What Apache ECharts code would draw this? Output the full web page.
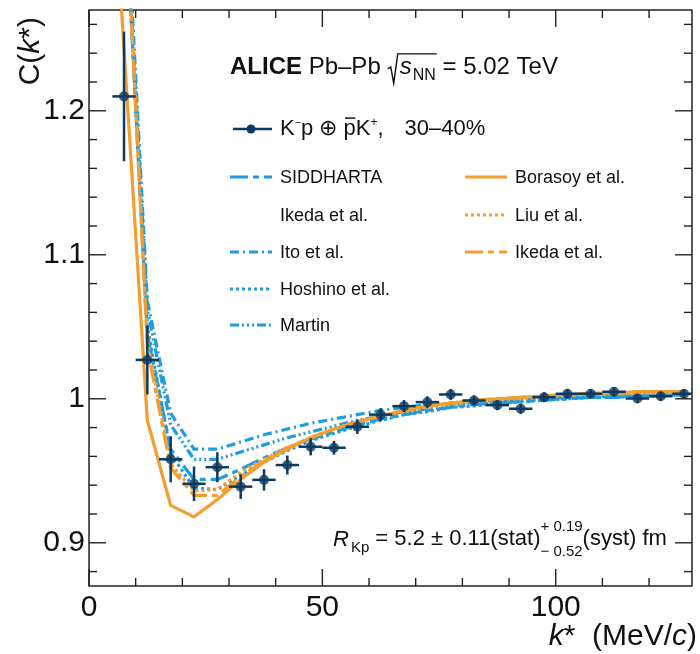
<!DOCTYPE html>
<html>
<head>
<meta charset="utf-8">
<script src="https://cdn.jsdelivr.net/npm/echarts@6/dist/echarts.min.js"></script>
<style>
  html, body { margin: 0; padding: 0; background: #ffffff; }
  #chart { width: 700px; height: 654px; }
</style>
</head>
<body>
<div id="chart"></div>
<script>
// ---- Measured correlation function, K-p (+) pbar-K+, 30-40% centrality ----
const kStar = [7.5, 12.5, 17.5, 22.5, 27.5, 32.5, 37.5, 42.5, 47.5, 52.5, 57.5, 62.5,
  67.5, 72.5, 77.5, 82.5, 87.5, 92.5, 97.5, 102.5, 107.5, 112.5, 117.5, 122.5, 127.5];
const cData = [1.210, 1.027, 0.958, 0.941, 0.9525, 0.939, 0.9437, 0.954, 0.9667, 0.966, 0.9806, 0.989,
  0.9949, 0.9977, 1.003, 0.9988, 0.9956, 0.9931, 1.0011, 1.0035, 1.0035, 1.0049, 1.0002, 1.0018, 1.0035];
const cStatErr = [0.045, 0.024, 0.016, 0.012, 0.0104, 0.0085, 0.0074, 0.0066, 0.006, 0.0048, 0.005, 0.0045,
  0.0042, 0.004, 0.0038, 0.0036, 0.0035, 0.0035, 0.0034, 0.0033, 0.0033, 0.0032, 0.0032, 0.0032, 0.0032];
const binHalfWidth = 2.5;

// ---- Model predictions, evaluated at the bin centres ----
const kModel = [2.5, 7.5, 12.5, 17.5, 22.5, 27.5, 32.5, 37.5, 42.5, 47.5, 52.5, 57.5, 62.5,
  67.5, 72.5, 77.5, 82.5, 87.5, 92.5, 97.5, 102.5, 107.5, 112.5, 117.5, 122.5, 127.5];
const siddhartaIkeda = [1.68, 1.36, 1.045, 0.965, 0.944, 0.944, 0.951, 0.959, 0.966, 0.972, 0.977, 0.982, 0.986,
  0.989, 0.992, 0.994, 0.996, 0.997, 0.998, 0.999, 1.000, 1.001, 1.001, 1.002, 1.002, 1.003];
const ito = [1.70, 1.38, 1.068, 0.990, 0.965, 0.965, 0.970, 0.975, 0.979, 0.983, 0.986, 0.989, 0.992,
  0.994, 0.996, 0.997, 0.998, 0.999, 1.000, 1.001, 1.001, 1.002, 1.002, 1.002, 1.003, 1.003];
const hoshino = [1.68, 1.36, 1.05, 0.962, 0.938, 0.937, 0.947, 0.956, 0.964, 0.971, 0.976, 0.981, 0.985,
  0.989, 0.991, 0.994, 0.995, 0.997, 0.998, 0.999, 1.000, 1.001, 1.001, 1.002, 1.002, 1.003];
const martin = [1.69, 1.37, 1.062, 0.982, 0.958, 0.958, 0.963, 0.968, 0.973, 0.977, 0.981, 0.985, 0.988,
  0.991, 0.993, 0.995, 0.997, 0.998, 0.999, 1.000, 1.001, 1.001, 1.002, 1.002, 1.002, 1.003];
const borasoy = [1.50, 1.243, 0.985, 0.926, 0.918, 0.930, 0.944, 0.956, 0.965, 0.973, 0.979, 0.984, 0.988,
  0.992, 0.995, 0.997, 0.999, 1.000, 1.001, 1.002, 1.003, 1.004, 1.004, 1.005, 1.005, 1.005];
const liu = [1.66, 1.37, 1.04, 0.955, 0.936, 0.937, 0.949, 0.958, 0.966, 0.973, 0.979, 0.984, 0.988,
  0.991, 0.994, 0.996, 0.998, 0.999, 1.000, 1.001, 1.002, 1.003, 1.003, 1.004, 1.004, 1.005];
const ikedaOrange = [1.66, 1.37, 1.035, 0.952, 0.933, 0.933, 0.946, 0.957, 0.966, 0.973, 0.979, 0.984, 0.988,
  0.992, 0.995, 0.997, 0.999, 1.000, 1.001, 1.002, 1.003, 1.003, 1.004, 1.004, 1.005, 1.005];

// ---- Axis ticks ----
const xMajorTicks = [0, 50, 100];
const xMinorTicks = [10, 20, 30, 40, 60, 70, 80, 90, 110, 120];
const yMajorTicks = [0.9, 1.0, 1.1, 1.2];
const yMinorTicks = [0.88, 0.92, 0.94, 0.96, 0.98, 1.02, 1.04, 1.06, 1.08, 1.12, 1.14, 1.16, 1.18, 1.22, 1.24, 1.26];

const X_MIN = 0, X_MAX = 129.2, Y_MIN = 0.87, Y_MAX = 1.27;

// ---- Styling ----
const FONT = '"Liberation Sans", Arial, Helvetica, sans-serif';
const INK = '#111111';
const FRAME = '#222222';
const NAVY = '#0b3a62';
const BLUE = '#1f9be2';
const ORANGE = '#f59e30';

const DASH_LONG = [18, 5, 6, 5];
const DASH_DOT = [9, 4, 2, 4];
const DOTTED = [3, 3];
const DASH_DOT3 = [9, 3, 2, 3, 2, 3, 2, 3];

const models = [
  { label: 'SIDDHARTA', values: siddhartaIkeda, color: BLUE, dash: DASH_LONG, col: 0, row: 0 },
  { label: 'Ito et al.', values: ito, color: BLUE, dash: DASH_DOT, col: 0, row: 2 },
  { label: 'Hoshino et al.', values: hoshino, color: BLUE, dash: DOTTED, col: 0, row: 3 },
  { label: 'Martin', values: martin, color: BLUE, dash: DASH_DOT3, col: 0, row: 4 },
  { label: 'Borasoy et al.', values: borasoy, color: ORANGE, dash: 'solid', col: 1, row: 0 },
  { label: 'Liu et al.', values: liu, color: ORANGE, dash: DOTTED, col: 1, row: 1 },
  { label: 'Ikeda et al.', values: ikedaOrange, color: ORANGE, dash: DASH_LONG, col: 1, row: 2 }
];

// ---- Text layout helpers ----
const measureCtx = document.createElement('canvas').getContext('2d');
function fontCss(p) {
  return (p.italic ? 'italic ' : '') + (p.bold ? 'bold ' : '') + p.size + 'px ' + FONT;
}
function textWidth(str, p) {
  measureCtx.font = fontCss(p);
  return measureCtx.measureText(str).width;
}
// Lays out mixed-size pieces of text along one baseline (sub/superscripts, bars, a root sign).
function textRun(x0, baseline, pieces) {
  const els = [];
  let x = x0;
  let stackX = 0, stackW = 0;
  let rootStart = null, rootEnd = null, rootSize = 0;
  pieces.forEach(p => {
    if (p.dx) x += p.dx;
    if (p.root) {
      rootStart = x; rootSize = p.size; rootEnd = x + p.root;
      x += p.root;
      return;
    }
    const w = textWidth(p.t, p);
    let px = x;
    if (p.stack === 'lower') px = stackX;
    els.push({
      type: 'text', x: px, y: baseline + (p.dy || 0) - 0.3465 * p.size, silent: true,
      style: { text: p.t, font: fontCss(p), fill: INK, align: 'left', verticalAlign: 'middle',
               textAlign: 'left', textVerticalAlign: 'middle' }
    });
    if (p.bar) {
      const by = baseline - 0.86 * p.size;
      els.push({ type: 'line', silent: true, shape: { x1: px + 1.5, y1: by, x2: px + w - 0.5, y2: by },
                 style: { stroke: INK, lineWidth: 1.5 } });
    }
    if (p.underRoot) rootEnd = px + w;
    if (p.stack === 'upper') { stackX = x; stackW = w; }
    else if (p.stack === 'lower') { x = stackX + Math.max(stackW, w); }
    else x = px + w;
  });
  if (rootStart !== null) {
    const s = rootSize;
    const top = baseline - 0.92 * s;
    els.push({
      type: 'polyline', silent: true,
      shape: { points: [
        [rootStart, baseline - 0.3 * s], [rootStart + 3, baseline - 0.38 * s],
        [rootStart + 6, baseline + 0.3 * s], [rootStart + 10, top], [rootEnd + 1, top]
      ] },
      style: { stroke: INK, lineWidth: 1.4, fill: null }
    });
  }
  return els;
}

// ---- Legend ----
const legendRowsY = [178, 216, 253, 290, 326];
const legendCols = [{ x1: 230, x2: 272, tx: 280 }, { x1: 465, x2: 507, tx: 515 }];
const legendFont = { size: 18 };

function legendText(x, y, str) {
  return { type: 'text', x: x, y: y, silent: true,
           style: { text: str, font: fontCss(legendFont), fill: INK, align: 'left', verticalAlign: 'middle',
                    textAlign: 'left', textVerticalAlign: 'middle' } };
}

const graphics = [];
models.forEach(m => {
  const c = legendCols[m.col];
  const y = legendRowsY[m.row];
  graphics.push({ type: 'line', silent: true, shape: { x1: c.x1, y1: y - 1, x2: c.x2, y2: y - 1 },
                  style: { stroke: m.color, lineWidth: 3, lineDash: m.dash === 'solid' ? null : m.dash } });
  graphics.push(legendText(c.tx, y, m.label));
});
// second line of the SIDDHARTA label
graphics.push(legendText(legendCols[0].tx, legendRowsY[1], 'Ikeda et al.'));

// data legend entry: line with a marker
graphics.push({ type: 'line', silent: true, shape: { x1: 233, y1: 129, x2: 272, y2: 129 },
                style: { stroke: NAVY, lineWidth: 2.5 } });
graphics.push({ type: 'circle', silent: true, shape: { cx: 251, cy: 129, r: 4.5 }, style: { fill: NAVY } });

// system header
graphics.push(...textRun(230, 76, [
  { t: 'ALICE', size: 24, bold: true },
  { t: ' Pb–Pb', size: 24 },
  { root: 11, size: 24, dx: 7 },
  { t: 's', size: 24, italic: true, underRoot: true, dx: 1 },
  { t: 'NN', size: 16, dy: 5, underRoot: true, dx: 1 },
  { t: ' = 5.02 TeV', size: 24 }
]));

// data legend label
graphics.push(...textRun(280, 137, [
  { t: 'K', size: 22 },
  { t: '−', size: 11, dy: -10 },
  { t: 'p ⊕ ', size: 22 },
  { t: 'p', size: 22, bar: true },
  { t: 'K', size: 22 },
  { t: '+', size: 12, dy: -10 },
  { t: ',', size: 22 },
  { t: '30–40%', size: 22, dx: 21 }
]));

// radius result
graphics.push(...textRun(333, 547, [
  { t: 'R', size: 22, italic: true },
  { t: 'Kp', size: 15, dy: 6, dx: 2 },
  { t: ' = 5.2 ± 0.11(stat)', size: 22 },
  { t: '+ 0.19', size: 15, dy: -15, stack: 'upper' },
  { t: '− 0.52', size: 15, dy: 10, stack: 'lower' },
  { t: '(syst) fm', size: 22 }
]));

// axis titles
function titleRich(size) {
  return {
    n: { fontSize: size, fontFamily: FONT, fill: INK, color: INK },
    i: { fontSize: size, fontFamily: FONT, fontStyle: 'italic', fill: INK, color: INK }
  };
}
graphics.push({
  type: 'text', x: 31, y: 17, rotation: Math.PI / 2, silent: true,
  style: { text: '{n|C(}{i|k}{n|*)}', rich: titleRich(30), align: 'right', verticalAlign: 'middle',
           textAlign: 'right', textVerticalAlign: 'middle' }
});
graphics.push({
  type: 'text', x: 697, y: 637, silent: true,
  style: { text: '{i|k}{n|*  (MeV/}{i|c}{n|)}', rich: titleRich(30), align: 'right', verticalAlign: 'middle',
           textAlign: 'right', textVerticalAlign: 'middle' }
});

// ---- Custom renderers ----
function renderErrorBar(params, api) {
  const k = api.value(0), c = api.value(1), e = api.value(2);
  const l = api.coord([k - binHalfWidth, c]);
  const r = api.coord([k + binHalfWidth, c]);
  const t = api.coord([k, c + e]);
  const b = api.coord([k, c - e]);
  const style = { stroke: NAVY, lineWidth: 2.5 };
  return { type: 'group', children: [
    { type: 'line', shape: { x1: l[0], y1: l[1], x2: r[0], y2: r[1] }, style: style },
    { type: 'line', shape: { x1: t[0], y1: t[1], x2: b[0], y2: b[1] }, style: style }
  ] };
}

function renderTicks(params, api) {
  const children = [];
  const style = { stroke: FRAME, lineWidth: 1.4 };
  const yBottom = api.coord([X_MIN, Y_MIN])[1];
  const yTop = api.coord([X_MIN, Y_MAX])[1];
  const xLeft = api.coord([X_MIN, Y_MIN])[0];
  const xRight = api.coord([X_MAX, Y_MIN])[0];
  const addX = (v, len) => {
    const x = api.coord([v, Y_MIN])[0];
    children.push({ type: 'line', shape: { x1: x, y1: yBottom, x2: x, y2: yBottom - len }, style: style });
    children.push({ type: 'line', shape: { x1: x, y1: yTop, x2: x, y2: yTop + len }, style: style });
  };
  const addY = (v, len) => {
    const y = api.coord([X_MIN, v])[1];
    children.push({ type: 'line', shape: { x1: xLeft, y1: y, x2: xLeft + len, y2: y }, style: style });
    children.push({ type: 'line', shape: { x1: xRight, y1: y, x2: xRight - len, y2: y }, style: style });
  };
  xMajorTicks.forEach(v => addX(v, 17));
  xMinorTicks.forEach(v => addX(v, 8));
  yMajorTicks.forEach(v => addY(v, 17));
  yMinorTicks.forEach(v => addY(v, 8));
  return { type: 'group', children: children };
}

// ---- Series ----
const series = models.map(m => ({
  type: 'line',
  name: m.label,
  data: kModel.map((k, i) => [k, m.values[i]]),
  showSymbol: false,
  symbol: 'none',
  clip: true,
  z: 2,
  silent: true,
  lineStyle: { color: m.color, width: 3.2, type: m.dash, cap: 'butt', join: 'miter' }
}));

series.push({
  type: 'custom',
  name: 'stat. errors',
  data: kStar.map((k, i) => [k, cData[i], cStatErr[i]]),
  renderItem: renderErrorBar,
  clip: true,
  z: 3,
  silent: true
});
series.push({
  type: 'scatter',
  name: 'data',
  data: kStar.map((k, i) => [k, cData[i]]),
  symbol: 'circle',
  symbolSize: 10,
  itemStyle: { color: NAVY },
  clip: true,
  z: 4,
  silent: true
});
series.push({
  type: 'custom',
  name: 'ticks',
  data: [[X_MIN, Y_MIN]],
  renderItem: renderTicks,
  clip: false,
  z: 5,
  silent: true
});

const labelStyle = { fontSize: 30, fontFamily: FONT, color: INK };

const option = {
  animation: false,
  backgroundColor: '#ffffff',
  grid: {
    left: 89, right: 8, top: 10, bottom: 68,
    show: true, borderColor: FRAME, borderWidth: 1.5, backgroundColor: 'transparent',
    containLabel: false, outerBoundsMode: 'none'
  },
  xAxis: {
    type: 'value', min: X_MIN, max: X_MAX, interval: 50,
    axisLine: { show: false }, axisTick: { show: false }, splitLine: { show: false },
    axisLabel: Object.assign({}, labelStyle, {
      margin: 7, showMaxLabel: false,
      formatter: v => (xMajorTicks.some(t => Math.abs(t - v) < 1e-6) ? String(Math.round(v)) : '')
    })
  },
  yAxis: {
    type: 'value', min: Y_MIN, max: Y_MAX, splitNumber: 4,
    axisLine: { show: false }, axisTick: { show: false }, splitLine: { show: false },
    axisLabel: Object.assign({}, labelStyle, {
      margin: 4, showMinLabel: false, showMaxLabel: false,
      formatter: v => {
        const t = yMajorTicks.find(m => Math.abs(m - v) < 1e-6);
        if (t === undefined) return '';
        return Math.abs(t - 1) < 1e-9 ? '1' : t.toFixed(1);
      }
    })
  },
  series: series,
  graphic: graphics
};

const chart = echarts.init(document.getElementById('chart'), null, { renderer: 'canvas' });
chart.setOption(option);
</script>
</body>
</html>
